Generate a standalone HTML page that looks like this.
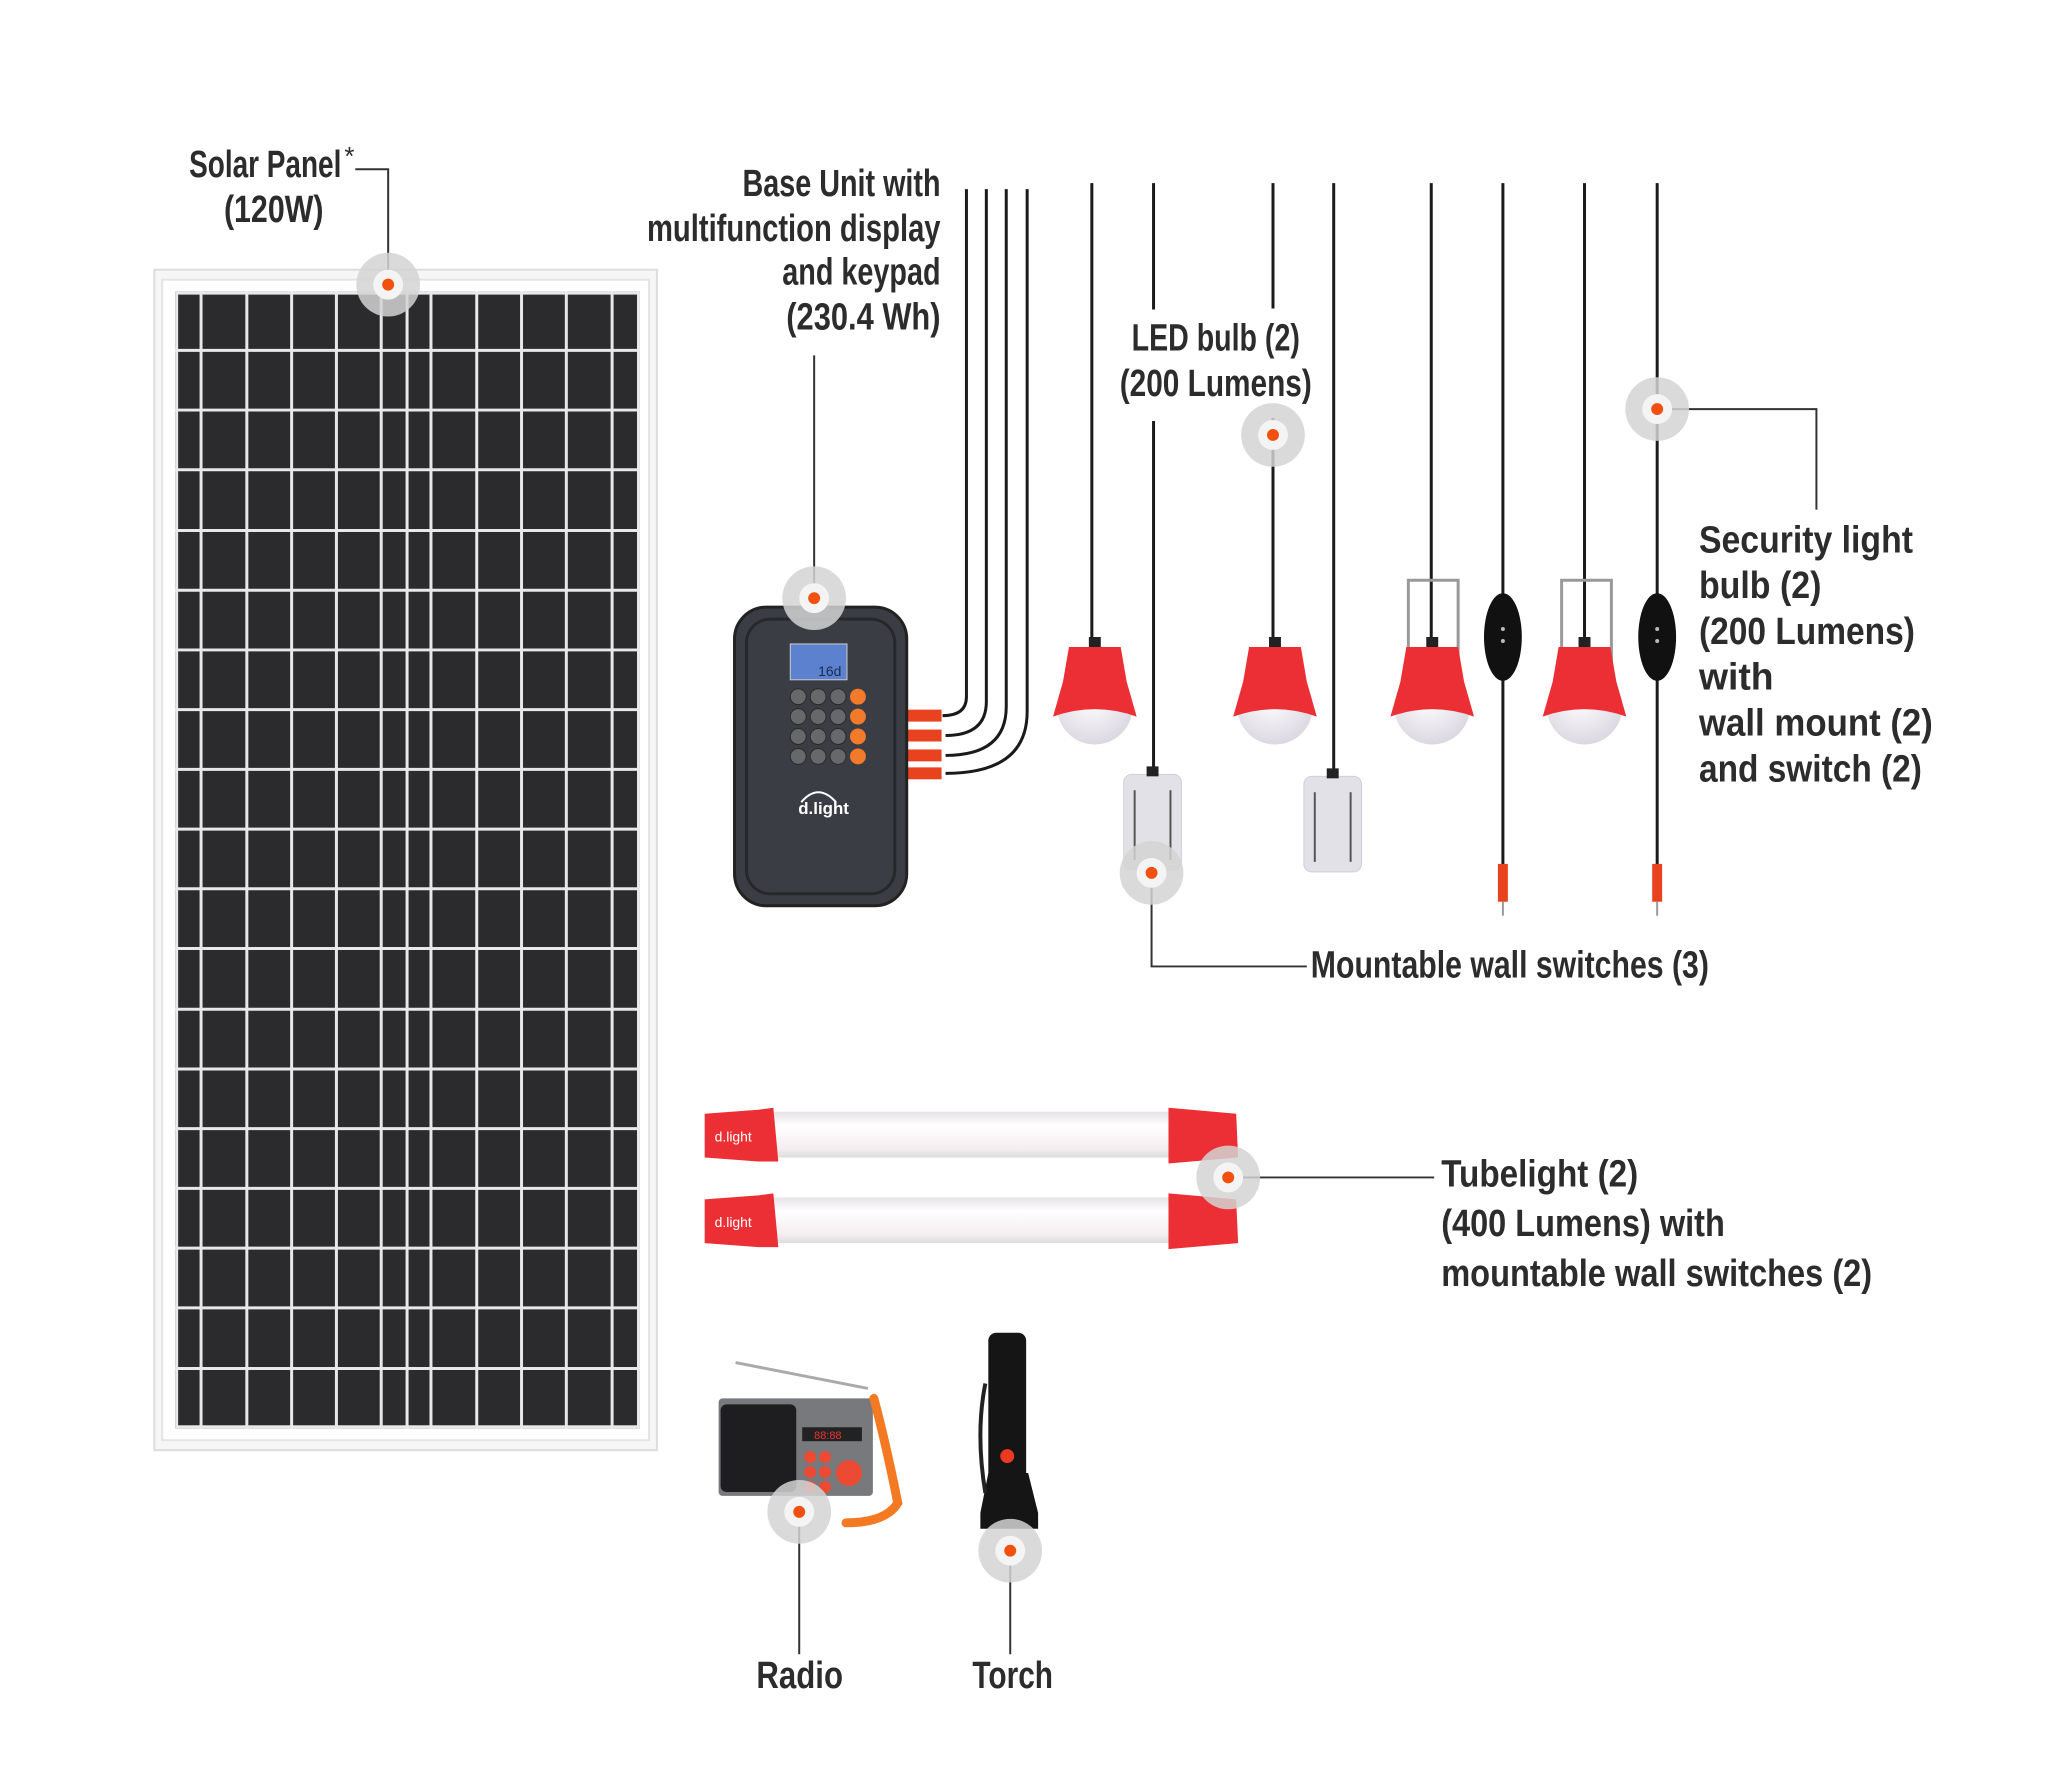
<!DOCTYPE html>
<html><head><meta charset="utf-8"><style>
html,body{margin:0;padding:0;background:#fff;}
svg{display:block;}
text{font-family:"Liberation Sans Narrow","Liberation Sans",sans-serif;font-weight:bold;fill:#2c2c2c;font-size:38px;}
</style></head><body>
<svg width="2048" height="1785" viewBox="0 0 2048 1785" xmlns="http://www.w3.org/2000/svg">
<defs>
<g id="dot"><circle r="32" fill="#d4d4d4" opacity="0.85"/><circle r="15" fill="#f4f4f4"/><circle r="6" fill="#f2500f"/></g>
<radialGradient id="globe" cx="0.45" cy="0.4" r="0.6"><stop offset="0" stop-color="#ffffff"/><stop offset="1" stop-color="#dcd8e2"/></radialGradient>
<linearGradient id="tube" x1="0" y1="0" x2="0" y2="1"><stop offset="0" stop-color="#e6e2e6"/><stop offset="0.3" stop-color="#ffffff"/><stop offset="0.8" stop-color="#f5eef0"/><stop offset="1" stop-color="#ddd"/></linearGradient>
<g id="bulb">
 <rect x="-6" y="-10" width="12" height="12" fill="#222"/>
 <circle cx="0" cy="60" r="38" fill="url(#globe)"/>
 <path d="M-26,0 L26,0 L32,35 L42,70 Q0,55 -42,70 L-32,35 Z" fill="#ec2f34"/>
</g>
<g id="wsw">
 <rect x="-29" y="0" width="58" height="96" rx="8" fill="#e2e1e8" stroke="#cfcfd6"/>
 <line x1="-18" y1="16" x2="-18" y2="86" stroke="#555" stroke-width="2"/>
 <line x1="18" y1="16" x2="18" y2="86" stroke="#555" stroke-width="2"/>
 <rect x="-6" y="-8" width="12" height="10" fill="#222"/>
</g>
<g id="isw">
 <ellipse cx="0" cy="0" rx="19" ry="44" fill="#111"/>
 <circle cx="0" cy="-8" r="2" fill="#bbb"/><circle cx="0" cy="4" r="2" fill="#bbb"/>
</g>
<g id="plug"><rect x="-5" y="0" width="10" height="38" fill="#e8421f"/><line x1="0" y1="38" x2="0" y2="52" stroke="#999" stroke-width="2"/></g>
<g id="tubeG">
 <rect x="60" y="4" width="440" height="46" rx="20" fill="url(#tube)"/>
 <path d="M6,6 L60,2 L75,0 L80,54 L60,54 L6,50 Z" fill="#ec2f34"/>
 <path d="M472,0 L495,2 L540,6 L542,50 L495,54 L472,56 Z" fill="#ec2f34"/>
 <text x="16" y="34" style="font-size:14px;fill:#fff;font-weight:normal">d.light</text>
</g>
</defs>
<g transform="scale(0.9953)">
<!-- Solar panel -->
<rect x="155" y="271" width="505" height="1186" fill="#f6f6f6" stroke="#dcdcdc" stroke-width="2"/>
<rect x="163" y="281" width="489" height="1166" fill="#fff" stroke="#e4e4e4" stroke-width="2"/>
<rect x="176" y="293" width="467" height="1142" fill="#2b2b2e"/>
<g stroke="#e8e8e8" stroke-width="3">
 <line x1="202" y1="293" x2="202" y2="1435"/><line x1="248" y1="293" x2="248" y2="1435"/>
 <line x1="293" y1="293" x2="293" y2="1435"/><line x1="338" y1="293" x2="338" y2="1435"/>
 <line x1="383" y1="293" x2="383" y2="1435"/><line x1="409" y1="293" x2="409" y2="1435"/>
 <line x1="433" y1="293" x2="433" y2="1435"/><line x1="479" y1="293" x2="479" y2="1435"/>
 <line x1="524" y1="293" x2="524" y2="1435"/><line x1="569" y1="293" x2="569" y2="1435"/>
 <line x1="615" y1="293" x2="615" y2="1435"/>
 <line x1="176" y1="352" x2="643" y2="352"/><line x1="176" y1="412" x2="643" y2="412"/>
 <line x1="176" y1="472" x2="643" y2="472"/><line x1="176" y1="533" x2="643" y2="533"/>
 <line x1="176" y1="593" x2="643" y2="593"/><line x1="176" y1="653" x2="643" y2="653"/>
 <line x1="176" y1="713" x2="643" y2="713"/><line x1="176" y1="773" x2="643" y2="773"/>
 <line x1="176" y1="833" x2="643" y2="833"/><line x1="176" y1="893" x2="643" y2="893"/>
 <line x1="176" y1="953" x2="643" y2="953"/><line x1="176" y1="1014" x2="643" y2="1014"/>
 <line x1="176" y1="1074" x2="643" y2="1074"/><line x1="176" y1="1134" x2="643" y2="1134"/>
 <line x1="176" y1="1194" x2="643" y2="1194"/><line x1="176" y1="1254" x2="643" y2="1254"/>
 <line x1="176" y1="1314" x2="643" y2="1314"/><line x1="176" y1="1375" x2="643" y2="1375"/>
 <rect x="177.5" y="294.5" width="464" height="1139" fill="none"/>
</g>

<!-- cables from base unit -->
<g fill="none" stroke="#1a1a1a" stroke-width="3">
 <path d="M971,190 V700 Q971,719 947,719"/>
 <path d="M991,190 V705 Q991,739 950,739"/>
 <path d="M1011,190 V710 Q1011,759 950,759"/>
 <path d="M1032,190 V715 Q1032,777 950,777"/>
</g>
<g fill="#e8421f">
 <rect x="906" y="713" width="40" height="12"/><rect x="906" y="733" width="40" height="12"/>
 <rect x="906" y="753" width="40" height="12"/><rect x="906" y="771" width="40" height="12"/>
</g>

<!-- base unit -->
<rect x="738" y="610" width="173" height="300" rx="32" fill="#3a3d43" stroke="#222" stroke-width="3"/>
<rect x="750" y="622" width="149" height="276" rx="24" fill="none" stroke="#26282c" stroke-width="3"/>
<rect x="794" y="647" width="57" height="36" fill="#5c82cf" stroke="#ccc"/>
<text x="822" y="679" style="font-size:14px;fill:#1b2a55;font-weight:normal">16d</text>
<g fill="#66686c" stroke="#2a2a2a">
 <circle cx="802" cy="700" r="8"/><circle cx="822" cy="700" r="8"/><circle cx="842" cy="700" r="8"/>
 <circle cx="802" cy="720" r="8"/><circle cx="822" cy="720" r="8"/><circle cx="842" cy="720" r="8"/>
 <circle cx="802" cy="740" r="8"/><circle cx="822" cy="740" r="8"/><circle cx="842" cy="740" r="8"/>
 <circle cx="802" cy="760" r="8"/><circle cx="822" cy="760" r="8"/><circle cx="842" cy="760" r="8"/>
</g>
<g fill="#f27a2a"><circle cx="862" cy="700" r="8"/><circle cx="862" cy="720" r="8"/><circle cx="862" cy="740" r="8"/><circle cx="862" cy="760" r="8"/></g>
<text x="802" y="818" style="font-size:17px;fill:#fff">d.light</text>
<path d="M805,806 Q822,786 840,806" fill="none" stroke="#fff" stroke-width="2"/>

<!-- pendant cables -->
<g stroke="#1a1a1a" stroke-width="3" fill="none">
 <line x1="1097" y1="184" x2="1097" y2="645"/>
 <line x1="1159" y1="184" x2="1159" y2="311"/><line x1="1159" y1="423" x2="1159" y2="778"/>
 <line x1="1279" y1="184" x2="1279" y2="310"/><line x1="1279" y1="420" x2="1279" y2="645"/>
 <line x1="1340" y1="184" x2="1340" y2="780"/>
 <line x1="1438" y1="184" x2="1438" y2="645"/>
 <line x1="1510" y1="184" x2="1510" y2="870"/>
 <line x1="1592" y1="184" x2="1592" y2="645"/>
 <line x1="1665" y1="184" x2="1665" y2="870"/>
</g>
<g fill="none" stroke="#999" stroke-width="3">
 <path d="M1415,665 V583 H1465 V672"/>
 <path d="M1569,665 V583 H1619 V672"/>
</g>
<use href="#bulb" x="1100" y="650"/>
<use href="#bulb" x="1281" y="650"/>
<use href="#bulb" x="1439" y="650"/>
<use href="#bulb" x="1592" y="650"/>
<use href="#wsw" x="1158" y="778"/>
<use href="#wsw" x="1339" y="780"/>
<use href="#isw" x="1510" y="640"/>
<use href="#isw" x="1665" y="640"/>
<use href="#plug" x="1510" y="868"/>
<use href="#plug" x="1665" y="868"/>

<!-- tubelights -->
<use href="#tubeG" x="702" y="1113"/>
<use href="#tubeG" x="702" y="1199"/>

<!-- radio -->
<line x1="739" y1="1369" x2="872" y2="1395" stroke="#aaa" stroke-width="3"/>
<rect x="722" y="1405" width="155" height="98" rx="4" fill="#77797d"/>
<rect x="724" y="1411" width="76" height="88" rx="6" fill="#1e1e20"/>
<rect x="806" y="1434" width="60" height="14" fill="#222"/>
<text x="818" y="1446" style="font-size:11px;fill:#e33;font-weight:normal">88:88</text>
<g fill="#ec4a33"><circle cx="814" cy="1464" r="6"/><circle cx="829" cy="1464" r="6"/><circle cx="814" cy="1479" r="6"/><circle cx="829" cy="1479" r="6"/><circle cx="814" cy="1494" r="6"/><circle cx="829" cy="1494" r="6"/><circle cx="853" cy="1480" r="13"/></g>
<path d="M878,1405 Q890,1450 902,1510 Q890,1530 850,1530" fill="none" stroke="#f37a22" stroke-width="9" stroke-linecap="round"/>

<!-- torch -->
<rect x="993" y="1339" width="38" height="150" rx="8" fill="#151515"/>
<path d="M993,1480 L985,1520 L985,1536 L1043,1536 L1043,1520 L1033,1480 Z" fill="#151515"/>
<circle cx="1012" cy="1463" r="7" fill="#ec3a22"/>
<path d="M990,1390 Q980,1440 990,1500" fill="none" stroke="#222" stroke-width="4"/>

<!-- leader lines -->
<g stroke="#333" stroke-width="2" fill="none">
 <polyline points="357,170 390,170 390,286"/>
 <line x1="818" y1="357" x2="818" y2="601"/>
 <polyline points="1665,411 1825,411 1825,512"/>
 <polyline points="1157,877 1157,971 1313,971"/>
 <line x1="1234" y1="1183" x2="1441" y2="1183"/>
 <line x1="803" y1="1519" x2="803" y2="1662"/>
 <line x1="1015" y1="1558" x2="1015" y2="1662"/>
</g>
<use href="#dot" x="390" y="286"/>
<use href="#dot" x="818" y="601"/>
<use href="#dot" x="1279" y="437"/>
<use href="#dot" x="1665" y="411"/>
<use href="#dot" x="1157" y="877"/>
<use href="#dot" x="1234" y="1183"/>
<use href="#dot" x="803" y="1519"/>
<use href="#dot" x="1015" y="1558"/>

<!-- labels -->
<text x="190" y="178" textLength="153" lengthAdjust="spacingAndGlyphs">Solar Panel</text>
<text x="346" y="166" style="font-size:26px;font-weight:normal">*</text>
<text x="225" y="223" textLength="100" lengthAdjust="spacingAndGlyphs">(120W)</text>

<text x="746" y="197" textLength="199" lengthAdjust="spacingAndGlyphs">Base Unit with</text>
<text x="650" y="242" textLength="295" lengthAdjust="spacingAndGlyphs">multifunction display</text>
<text x="786" y="286" textLength="159" lengthAdjust="spacingAndGlyphs">and keypad</text>
<text x="790" y="331" textLength="155" lengthAdjust="spacingAndGlyphs">(230.4 Wh)</text>

<text x="1137" y="352" textLength="169" lengthAdjust="spacingAndGlyphs">LED bulb (2)</text>
<text x="1125" y="398" textLength="193" lengthAdjust="spacingAndGlyphs">(200 Lumens)</text>

<text x="1707" y="555" textLength="215" lengthAdjust="spacingAndGlyphs">Security light</text>
<text x="1707" y="601" textLength="123" lengthAdjust="spacingAndGlyphs">bulb (2)</text>
<text x="1707" y="647" textLength="217" lengthAdjust="spacingAndGlyphs">(200 Lumens)</text>
<text x="1707" y="693" textLength="75" lengthAdjust="spacingAndGlyphs">with</text>
<text x="1707" y="739" textLength="235" lengthAdjust="spacingAndGlyphs">wall mount (2)</text>
<text x="1707" y="785" textLength="224" lengthAdjust="spacingAndGlyphs">and switch (2)</text>

<text x="1317" y="982" textLength="400" lengthAdjust="spacingAndGlyphs">Mountable wall switches (3)</text>

<text x="1448" y="1192" textLength="198" lengthAdjust="spacingAndGlyphs">Tubelight (2)</text>
<text x="1448" y="1242" textLength="285" lengthAdjust="spacingAndGlyphs">(400 Lumens) with</text>
<text x="1448" y="1292" textLength="433" lengthAdjust="spacingAndGlyphs">mountable wall switches (2)</text>

<text x="760" y="1696" textLength="87" lengthAdjust="spacingAndGlyphs">Radio</text>
<text x="977" y="1696" textLength="81" lengthAdjust="spacingAndGlyphs">Torch</text>
</g>
</svg>
</body></html>
